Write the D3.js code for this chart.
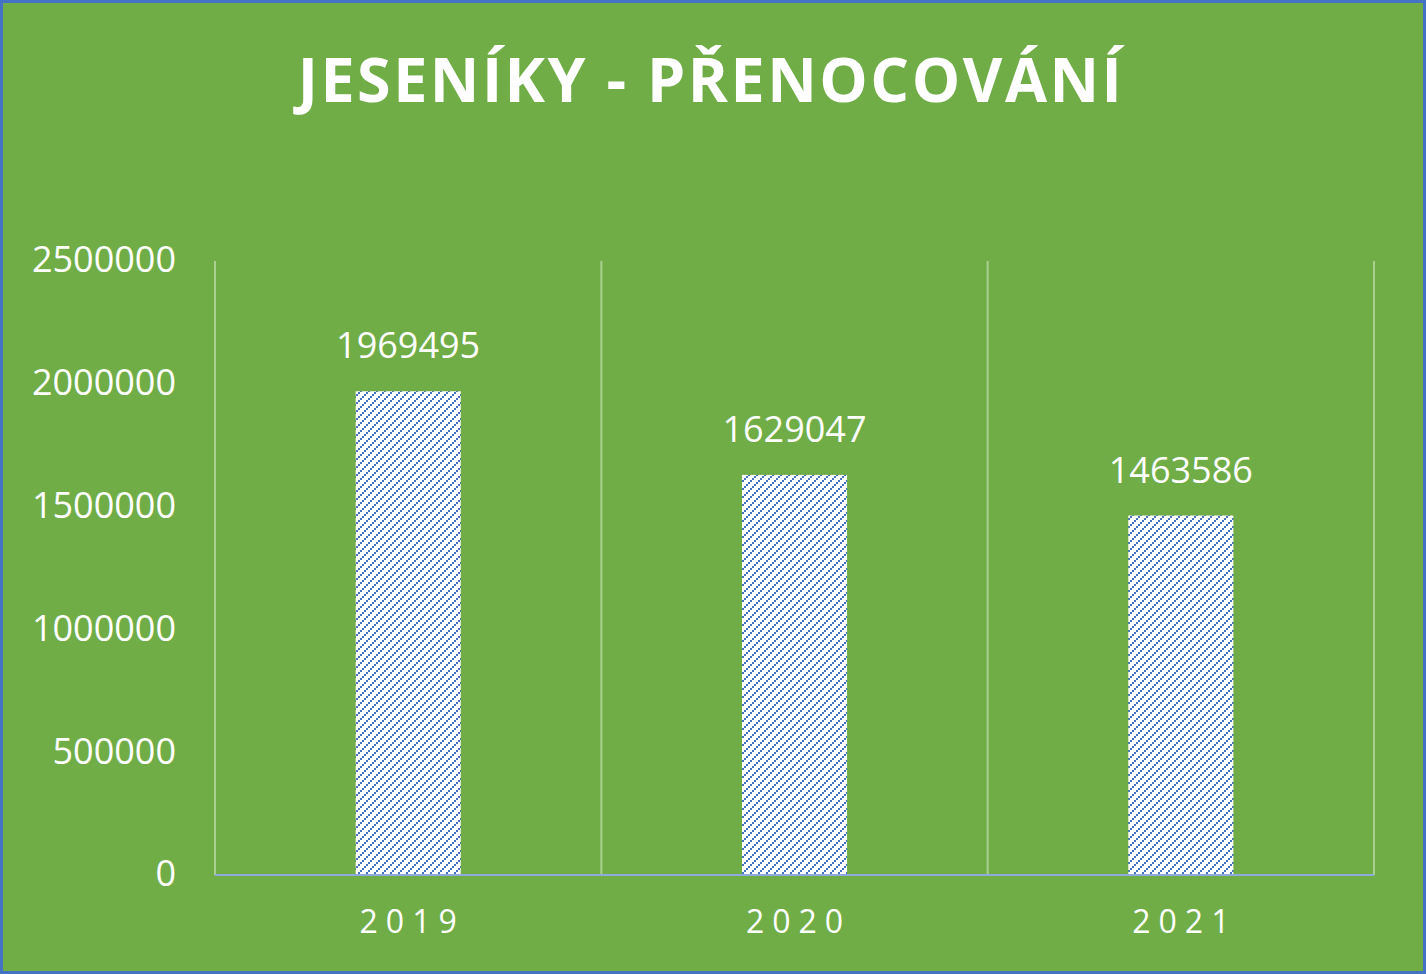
<!DOCTYPE html>
<html>
<head>
<meta charset="utf-8">
<script src="https://cdn.jsdelivr.net/npm/d3@7"></script>
<style>
  body { margin: 0; background: #fff; }
  text { font-family: "Open Sans", "Noto Sans", sans-serif; fill: #fff; }
</style>
</head>
<body>
<svg width="1426" height="974"></svg>
<script>
const years = ["2019", "2020", "2021"];
const values = [1969495, 1629047, 1463586];
const yTicks = [0, 500000, 1000000, 1500000, 2000000, 2500000];

const svg = d3.select("svg");
const width = +svg.attr("width");
const height = +svg.attr("height");

// background + frame
svg.append("rect")
    .attr("x", 1.5).attr("y", 1.5)
    .attr("width", width - 3).attr("height", height - 3)
    .attr("fill", "#70AD47")
    .attr("stroke", "#4472C4")
    .attr("stroke-width", 3);

// dotted diagonal hatch for the bars
const pat = svg.append("defs").append("pattern")
    .attr("id", "hatch")
    .attr("patternUnits", "userSpaceOnUse")
    .attr("width", 8).attr("height", 8);
pat.append("rect").attr("width", 8).attr("height", 8).attr("fill", "#fff");
pat.selectAll("rect.dot")
    .data([[0, 6], [2, 4], [4, 2], [6, 0]]).enter().append("rect")
    .attr("class", "dot")
    .attr("x", d => d[0]).attr("y", d => d[1])
    .attr("width", 2).attr("height", 2)
    .attr("fill", "#4472C4")
    .attr("shape-rendering", "crispEdges");

const plotL = 215, plotR = 1374, plotT = 261, plotB = 875;

const x = d3.scaleBand().domain(years).range([plotL, plotR]).padding(0);
const y = d3.scaleLinear().domain([0, 2500000]).range([plotB, plotT]);

// title
svg.append("text")
    .attr("x", 711).attr("y", 102)
    .attr("text-anchor", "middle")
    .attr("font-size", 61)
    .attr("font-weight", "bold")
    .attr("letter-spacing", 2.5)
    .text("JESENÍKY - PŘENOCOVÁNÍ");

// vertical gridlines at category boundaries
const bounds = years.map(d => x(d)).concat([x(years[years.length - 1]) + x.bandwidth()]);
svg.append("g").selectAll("line")
    .data(bounds).enter().append("line")
    .attr("x1", d => d).attr("x2", d => d)
    .attr("y1", plotT).attr("y2", plotB)
    .attr("stroke", "#A9D08E")
    .attr("stroke-width", 2);

// y axis labels
const yAxis = svg.append("g")
    .attr("transform", `translate(${plotL},0)`)
    .call(d3.axisLeft(y).tickValues(yTicks).tickFormat(d3.format("d")).tickSize(0).tickPadding(39));
yAxis.select(".domain").remove();
yAxis.selectAll("text")
    .attr("font-size", 36)
    .attr("fill", "#fff")
    .attr("dy", "0.3em")
    .style("font-family", "'Open Sans', sans-serif");

// bars
const barW = x.bandwidth() * 0.272;
svg.append("g").selectAll("rect")
    .data(values).enter().append("rect")
    .attr("x", (d, i) => x(years[i]) + (x.bandwidth() - barW) / 2)
    .attr("y", d => y(d))
    .attr("width", barW)
    .attr("height", d => plotB - y(d))
    .attr("fill", "url(#hatch)");

// baseline
svg.append("line")
    .attr("x1", plotL).attr("x2", plotR)
    .attr("y1", plotB).attr("y2", plotB)
    .attr("stroke", "#8FAADC")
    .attr("stroke-width", 2);

// data labels
svg.append("g").selectAll("text")
    .data(values).enter().append("text")
    .attr("x", (d, i) => x(years[i]) + x.bandwidth() / 2)
    .attr("y", d => y(d) - 33)
    .attr("text-anchor", "middle")
    .attr("font-size", 36)
    .text(d => d);

// x axis labels
svg.append("g").selectAll("text")
    .data(years).enter().append("text")
    .attr("x", d => x(d) + x.bandwidth() / 2 + 4)
    .attr("y", 933)
    .attr("text-anchor", "middle")
    .attr("font-size", 32)
    .attr("letter-spacing", 8)
    .text(d => d);
</script>
</body>
</html>
